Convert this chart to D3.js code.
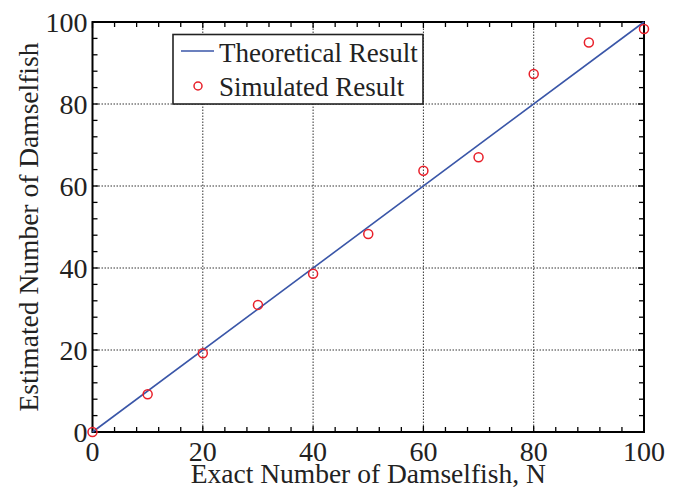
<!DOCTYPE html>
<html><head><meta charset="utf-8">
<script src="https://cdn.jsdelivr.net/npm/d3@7"></script>
<style>body{margin:0;background:#fff}svg{display:block}</style>
</head><body>
<script>
const xTicks = [0, 20, 40, 60, 80, 100];
const yTicks = [0, 20, 40, 60, 80, 100];
const theoryX = [0, 100];
const theoryY = [0, 100];
const simX = [0, 10, 20, 30, 40, 50, 60, 70, 80, 90, 100];
const simY = [0, 9.2, 19.2, 31, 38.6, 48.3, 63.7, 67, 87.3, 95, 98.3];
const legendLabels = ["Theoretical Result", "Simulated Result"];

const W = 682, H = 491;
const m = {l: 92.5, r: 38, t: 22, b: 59};
const svg = d3.select("body").append("svg").attr("width", W).attr("height", H);
const x = d3.scaleLinear().domain([0, 100]).range([m.l, W - m.r]);
const y = d3.scaleLinear().domain([0, 100]).range([H - m.b, m.t]);
const font = "'Liberation Serif','Times New Roman',serif";
const minor = d3.range(0, 101, 4);

// grid
const g = svg.append("g");
xTicks.slice(1, -1).forEach(t => g.append("line").attr("x1", x(t)).attr("x2", x(t)).attr("y1", y(0)).attr("y2", y(100))
  .attr("stroke", "#333").attr("stroke-width", 1).attr("stroke-dasharray", "1.5,1.5"));
yTicks.slice(1, -1).forEach(t => g.append("line").attr("y1", y(t)).attr("y2", y(t)).attr("x1", x(0)).attr("x2", x(100))
  .attr("stroke", "#333").attr("stroke-width", 1).attr("stroke-dasharray", "1.5,1.5"));

// ticks (inward, all sides)
const tk = svg.append("g").attr("stroke", "#000").attr("stroke-width", 1.3);
minor.forEach(t => {
  const len = xTicks.includes(t) ? 6 : 5;
  tk.append("line").attr("x1", x(t)).attr("x2", x(t)).attr("y1", y(0)).attr("y2", y(0) - len);
  tk.append("line").attr("x1", x(t)).attr("x2", x(t)).attr("y1", y(100)).attr("y2", y(100) + len);
  tk.append("line").attr("y1", y(t)).attr("y2", y(t)).attr("x1", x(0)).attr("x2", x(0) + len);
  tk.append("line").attr("y1", y(t)).attr("y2", y(t)).attr("x1", x(100)).attr("x2", x(100) - len);
});

// frame
svg.append("rect").attr("x", x(0)).attr("y", y(100)).attr("width", x(100) - x(0)).attr("height", y(0) - y(100))
  .attr("fill", "none").attr("stroke", "#000").attr("stroke-width", 2);

// tick labels
xTicks.forEach(t => svg.append("text").attr("x", x(t)).attr("y", y(0) + 29).attr("text-anchor", "middle")
  .attr("font-family", font).attr("font-size", 28).attr("fill", "#222").text(t));
yTicks.forEach(t => svg.append("text").attr("x", x(0) - 5).attr("y", y(t) + 9.5).attr("text-anchor", "end")
  .attr("font-family", font).attr("font-size", 28).attr("fill", "#222").text(t));

// axis titles
svg.append("text").attr("x", (x(0) + x(100)) / 2).attr("y", 483).attr("text-anchor", "middle")
  .attr("font-family", font).attr("font-size", 27.5).attr("fill", "#222").text("Exact Number of Damselfish, N");
svg.append("text").attr("transform", `translate(38,${(y(0) + y(100)) / 2}) rotate(-90)`).attr("text-anchor", "middle")
  .attr("font-family", font).attr("font-size", 27.5).attr("fill", "#222").text("Estimated Number of Damselfish");

// theory line
const line = d3.line().x(d => x(d[0])).y(d => y(d[1]));
svg.append("path").datum(theoryX.map((v, i) => [v, theoryY[i]])).attr("d", line)
  .attr("fill", "none").attr("stroke", "#3a56a8").attr("stroke-width", 1.6);

// simulated points
svg.append("g").selectAll("circle").data(simX.map((v, i) => [v, simY[i]])).join("circle")
  .attr("cx", d => x(d[0])).attr("cy", d => y(d[1])).attr("r", 4.5)
  .attr("fill", "none").attr("stroke", "#e8202a").attr("stroke-width", 1.5);

// legend
const lg = svg.append("g");
lg.append("rect").attr("x", 173).attr("y", 34.5).attr("width", 250).attr("height", 69.5)
  .attr("fill", "#fff").attr("stroke", "#222").attr("stroke-width", 1.6);
lg.append("line").attr("x1", 181).attr("x2", 214).attr("y1", 51).attr("y2", 51).attr("stroke", "#3a56a8").attr("stroke-width", 1.6);
lg.append("circle").attr("cx", 198).attr("cy", 86).attr("r", 4).attr("fill", "none").attr("stroke", "#e8202a").attr("stroke-width", 1.5);
lg.append("text").attr("x", 219).attr("y", 62).attr("font-family", font).attr("font-size", 27).attr("fill", "#222").text(legendLabels[0]);
lg.append("text").attr("x", 219).attr("y", 96).attr("font-family", font).attr("font-size", 27).attr("fill", "#222").text(legendLabels[1]);
</script>
</body></html>
